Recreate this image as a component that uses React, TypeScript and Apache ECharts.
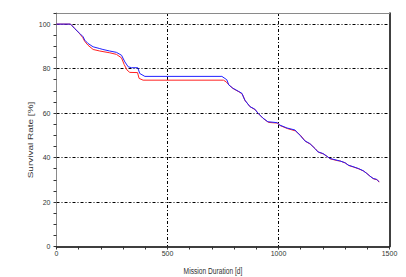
import React, { useEffect, useRef } from "react";
import * as echarts from "echarts";

const blueDays = [0, 63, 68, 82, 105, 120, 127, 142, 165, 195, 209, 240, 270, 293, 308, 323, 338, 366, 375, 398, 745, 767, 776, 794, 821, 835, 848, 871, 893, 907, 929, 952, 993, 1006, 1038, 1074, 1096, 1119, 1141, 1164, 1177, 1200, 1218, 1231, 1263, 1276, 1299, 1314, 1336, 1359, 1381, 1397, 1411, 1426, 1442, 1453];
const blueSurvival = [100, 100, 99.5, 98, 95.8, 94.3, 92.8, 91.3, 89.8, 89, 88.6, 87.9, 87.3, 86, 83, 80.8, 80.4, 80.4, 77.8, 76.5, 76.5, 75, 72.7, 71.2, 69.7, 68.9, 65.9, 62.9, 61.8, 60, 57.8, 56.1, 55.7, 54.6, 53.3, 52.4, 50.1, 47.5, 46.3, 44.1, 42.6, 41.8, 40.6, 39.6, 38.8, 38.5, 37.7, 36.6, 35.9, 35.1, 34.1, 32.9, 31.7, 30.6, 30.2, 29.1];

const redDays = [0, 63, 68, 82, 105, 118, 127, 142, 165, 195, 240, 270, 293, 305, 318, 330, 365, 372, 390, 752, 765, 778, 796, 823, 837, 850, 873, 895, 909, 931, 955, 995, 1009, 1041, 1076, 1099, 1121, 1144, 1166, 1180, 1203, 1220, 1234, 1266, 1279, 1302, 1317, 1339, 1362, 1384, 1400, 1414, 1429, 1445, 1453];
const redSurvival = [100, 100, 99.5, 98, 95.6, 94, 92.3, 90.5, 88.6, 87.9, 87.1, 86.4, 84.8, 81.8, 79.3, 78.3, 78.2, 75.6, 74.8, 74.8, 74, 72.5, 71, 69.5, 68.5, 65.5, 62.8, 61.5, 59.8, 57.6, 55.8, 55.5, 54.3, 53, 52, 50, 47.3, 46, 43.9, 42.4, 41.6, 40.4, 39.4, 38.6, 38.4, 37.5, 36.4, 35.7, 34.9, 33.9, 32.7, 31.5, 30.4, 30, 28.9];

const xTicks = [0, 500, 1000, 1500];
const yTicks = [0, 20, 40, 60, 80, 100];
const xTitle = "Mission Duration [d]";
const yTitle = "Survival Rate [%]";

const pairs = (xs: number[], ys: number[]) => xs.map((x, i) => [x, ys[i]]);

const labelFont = "'Liberation Sans Narrow', 'Liberation Sans', Arial, sans-serif";

export default function App() {
  const ref = useRef<HTMLDivElement>(null);
  useEffect(() => {
    document.body.style.margin = "0";
    const chart = echarts.init(ref.current!, null, { renderer: "svg" });
    chart.setOption({
      animation: false,
      backgroundColor: "#ffffff",
      grid: { left: 56.5, right: 16.5, top: 13, bottom: 30.5, containLabel: false },
      xAxis: [
        {
          type: "value",
          min: xTicks[0],
          max: xTicks[xTicks.length - 1],
          interval: 500,
          position: "bottom",
          axisLine: { show: true, lineStyle: { color: "#000", width: 1.5 } },
          axisTick: { show: true, length: 3, lineStyle: { color: "#333" } },
          minorTick: { show: true, splitNumber: 5, length: 3, lineStyle: { color: "#333" } },
          axisLabel: {
            fontSize: 7,
            color: "#333",
            margin: 3,
            fontFamily: labelFont,
            formatter: (v: number) => String(v),
          },
          splitLine: {
            show: true,
            showMinLine: false,
            showMaxLine: false,
            lineStyle: { color: "#000", width: 1, type: [3, 2, 1, 2] },
          },
        },
        {
          type: "value",
          min: xTicks[0],
          max: xTicks[xTicks.length - 1],
          position: "top",
          axisLine: { show: true, onZero: false, lineStyle: { color: "#8a8a8a", width: 1 } },
          axisTick: { show: false },
          axisLabel: { show: false },
          splitLine: { show: false },
        },
      ],
      yAxis: [
        {
          type: "value",
          min: yTicks[0],
          max: 105,
          interval: 20,
          position: "left",
          axisLine: { show: true, lineStyle: { color: "#8a8a8a", width: 1 } },
          axisTick: { show: true, length: 3, lineStyle: { color: "#333" } },
          minorTick: { show: true, splitNumber: 4, length: 3, lineStyle: { color: "#333" } },
          axisLabel: {
            fontSize: 7,
            color: "#333",
            margin: 6,
            fontFamily: labelFont,
            formatter: (v: number) => (yTicks.includes(v) ? String(v) : ""),
          },
          splitLine: {
            show: true,
            showMinLine: false,
            showMaxLine: false,
            lineStyle: { color: "#000", width: 1, type: [3, 2, 1, 2] },
          },
        },
        {
          type: "value",
          min: yTicks[0],
          max: 105,
          position: "right",
          axisLine: { show: true, onZero: false, lineStyle: { color: "#000", width: 1.5 } },
          axisTick: { show: false },
          axisLabel: { show: false },
          splitLine: { show: false },
        },
      ],
      graphic: [
        {
          type: "text",
          x: 213,
          y: 271.5,
          scaleX: 0.74,
          style: {
            text: xTitle,
            font: "9px 'Liberation Sans', Arial, sans-serif",
            fill: "#333",
            align: "center",
            verticalAlign: "middle",
          },
        },
        {
          type: "text",
          x: 30.5,
          y: 140,
          rotation: Math.PI / 2,
          scaleY: 0.75,
          style: {
            text: yTitle,
            font: "10px 'Liberation Sans', Arial, sans-serif",
            fill: "#333",
            align: "center",
            verticalAlign: "middle",
          },
        },
      ],
      series: [
        {
          name: "red",
          type: "line",
          showSymbol: false,
          data: pairs(redDays, redSurvival),
          lineStyle: { color: "#ff2020", width: 1 },
          itemStyle: { color: "#ff2020" },
          z: 3,
        },
        {
          name: "blue",
          type: "line",
          showSymbol: false,
          data: pairs(blueDays, blueSurvival),
          lineStyle: { color: "#2020ff", width: 1 },
          itemStyle: { color: "#2020ff" },
          z: 4,
        },
      ],
    });
    return () => chart.dispose();
  }, []);
  return <div ref={ref} style={{ width: 406, height: 277 }} />;
}
